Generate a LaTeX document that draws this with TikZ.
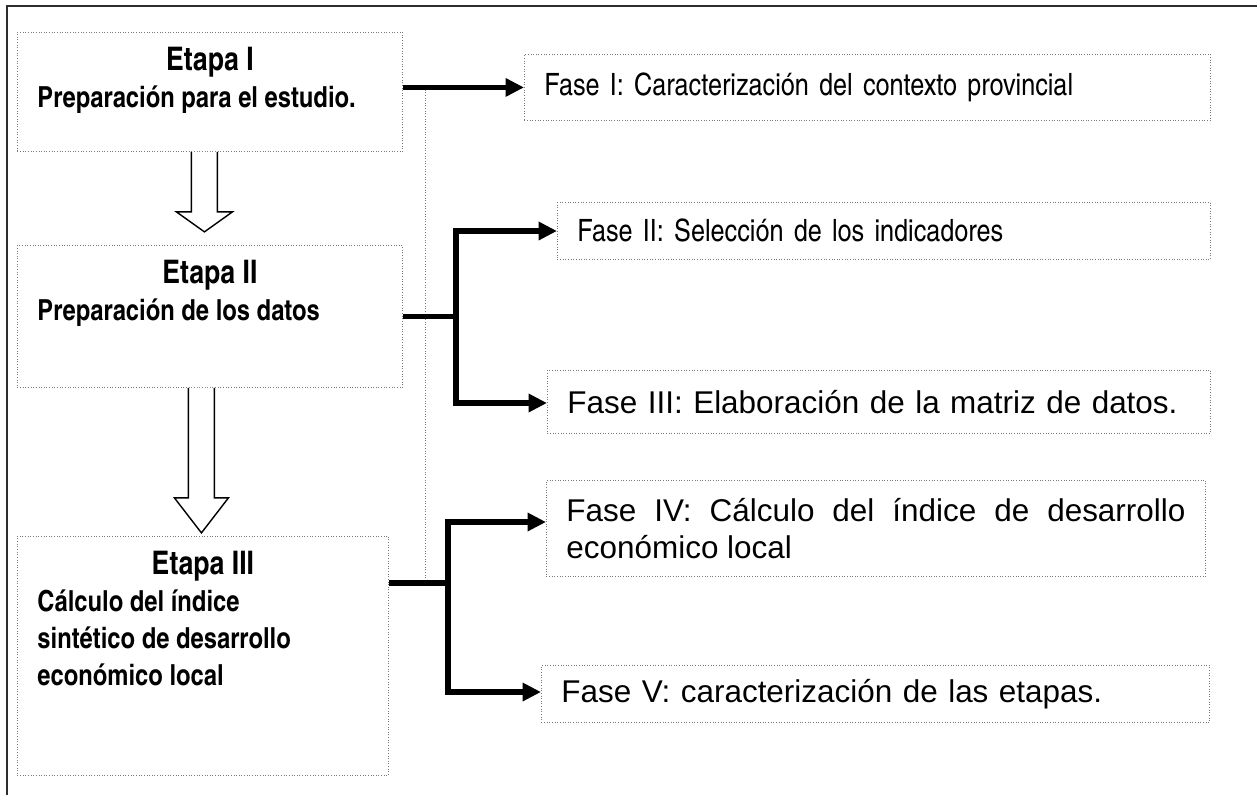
\documentclass[tikz,border=0pt]{standalone}
\usepackage{fontspec}
\setmainfont{Liberation Sans}
\newfontfamily\narrowfont{texgyreheroscn}[Extension=.otf, UprightFont=*-regular, BoldFont=*-bold]
\usetikzlibrary{arrows.meta, calc}
\definecolor{boxgray}{RGB}{120, 120, 120}
\definecolor{framegray}{RGB}{45, 45, 45}
\newdimen\pxl \pxl=0.02cm
\newcommand{\etapatitulo}[1]{{\fontsize{18.5}{21}\selectfont #1}}
\hyphenpenalty=10000
\tikzset{
	etapa/.style = {draw = boxgray, densely dotted, line width = 0.5pt, anchor = north west, inner sep = 0pt, font = \narrowfont\bfseries\fontsize{16.5}{21}\selectfont},
	fase/.style = {draw = boxgray, densely dotted, line width = 0.5pt, anchor = north west, inner xsep = 20\pxl, inner ysep = 0pt, align = left, font = \fontsize{17.9}{21}\selectfont},
	faseangosta/.style = {fase, font = \narrowfont\fontsize{17.5}{21}\selectfont},
	linea/.style = {line width = 3.1pt},
	flecha/.style = {line width = 3.1pt, -{Triangle[length = 10.5pt, width = 10pt]}},
	hueca/.style = {line width = 0.8pt, fill = white},
	guia/.style = {draw = boxgray, densely dotted, line width = 0.5pt},
	marco/.style = {draw = framegray, line width = 1.1pt}
}
\begin{document}
\begin{tikzpicture}[x = 0.02cm, y = -0.02cm]
		\useasboundingbox (0,0) rectangle (1257,795);
		\draw[marco] (7,795) -- (7,6) -- (1257,6);
		\node (e1) at (17,32) [etapa] {\parbox[t][119\pxl][t]{385\pxl}{\vspace*{15\pxl}\centering \etapatitulo{Etapa I}\par\raggedright\leftskip = 20\pxl Preparación para el estudio.}};
		\node (e2) at (17,245) [etapa] {\parbox[t][142\pxl][t]{385\pxl}{\vspace*{15\pxl}\centering \etapatitulo{Etapa II}\par\raggedright\leftskip = 20\pxl Preparación de los datos}};
		\node (e3) at (17,536) [etapa] {\parbox[t][239\pxl][t]{371\pxl}{\vspace*{15\pxl}\centering \etapatitulo{Etapa III}\par\raggedright\leftskip = 20\pxl Cálculo del índice\\ sintético de desarrollo\\ económico local}};
		\node (f1) at (524,54) [faseangosta, text width = 646\pxl, minimum height = 66\pxl] {Fase I: Caracterización del contexto provincial};
		\node (f2) at (557,202) [faseangosta, text width = 613\pxl, minimum height = 57\pxl] {Fase II: Selección de los indicadores};
		\node (f3) at (547,370) [fase, text width = 623\pxl, minimum height = 63\pxl] {Fase III: Elaboración de la matriz de datos.};
		\node (f4) at (546,480) [fase, text width = 619\pxl, minimum height = 96\pxl, align = justify] {Fase IV: Cálculo del índice de desarrollo económico local};
		\node (f5) at (541,665) [fase, text width = 628\pxl, minimum height = 57\pxl] {Fase V: caracterización de las etapas.};
		\filldraw[hueca] ($(e1.south)+(-18.5,0)$) -- ++(0,60) -- ++(-15,0) -- ++(28,20) -- ++(28,-20) -- ++(-15,0) -- ++(0,-60);
		\filldraw[hueca] ($(e2.south)+(-21.5,0)$) -- ++(0,110) -- ++(-14,0) -- ++(27,35) -- ++(27,-35) -- ++(-14,0) -- ++(0,-110);
		\coordinate (g1) at (425,87);
		\coordinate (g2) at (425,583);
		\coordinate (a2) at (456,231);
		\coordinate (a3) at (456,403);
		\coordinate (b3) at (448,583);
		\coordinate (a4) at (448,522);
		\coordinate (a5) at (448,692);
		\draw[guia] (g1) -- (g2);
		\draw[flecha] (e1.east |- f1.west) -- (f1.west);
		\draw[linea] (e2.east) -- (e2.east -| a2);
		\draw[linea, line cap = rect] (a2) -- (a3);
		\draw[flecha] (a2) -- (a2 -| f2.west);
		\draw[flecha] (a3) -- (a3 -| f3.west);
		\draw[linea] (e3.east |- b3) -- (b3);
		\draw[linea, line cap = rect] (a4) -- (a5);
		\draw[flecha] (a4) -- (a4 -| f4.west);
		\draw[flecha] (a5) -- (a5 -| f5.west);
\end{tikzpicture}
\end{document}
